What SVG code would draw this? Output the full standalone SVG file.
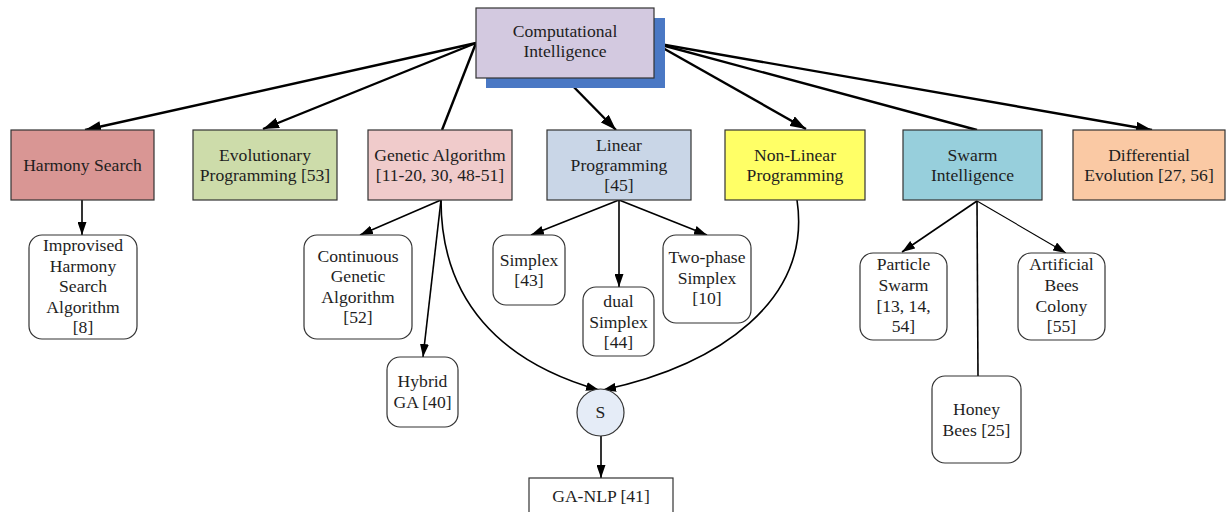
<svg xmlns="http://www.w3.org/2000/svg" width="1226" height="512" viewBox="0 0 1226 512">
  <style>
    text { font-family: "Liberation Serif", "Times New Roman", serif; font-size: 17.6px; fill: #1e1e1e; text-anchor: middle; }
    .box { stroke: #333; stroke-width: 1.2; }
    .leaf { fill: #fff; stroke: #333; stroke-width: 1.2; }
    .main { fill: none; stroke: #000; stroke-width: 2.4; }
    .sub { fill: none; stroke: #000; stroke-width: 1.6; }
    .thin { fill: none; stroke: #000; stroke-width: 1.1; }
  </style>
  <defs>
    <marker id="arrowBig" viewBox="0 0 16 11" refX="16" refY="5.5" markerWidth="16" markerHeight="11" markerUnits="userSpaceOnUse" orient="auto">
      <path d="M0,0 L16,5.5 L0,11 z" fill="#000"/>
    </marker>
    <marker id="arrowSmall" viewBox="0 0 13 9" refX="13" refY="4.5" markerWidth="13" markerHeight="9" markerUnits="userSpaceOnUse" orient="auto">
      <path d="M0,0 L13,4.5 L0,9 z" fill="#000"/>
    </marker>
  </defs>

  <!-- connectors -->
  <g id="connectors">
    <line class="main" x1="476" y1="43" x2="85" y2="130" marker-end="url(#arrowBig)"/>
    <line class="main" x1="476" y1="43" x2="263" y2="129" marker-end="url(#arrowBig)"/>
    <line class="main" x1="476" y1="43" x2="442" y2="130"/>
    <line class="main" x1="565" y1="78" x2="616" y2="130" marker-end="url(#arrowBig)"/>
    <line class="main" x1="654" y1="43" x2="806" y2="129" marker-end="url(#arrowBig)"/>
    <line class="main" x1="654" y1="43" x2="977" y2="130"/>
    <line class="main" x1="654" y1="43" x2="1152" y2="130" marker-end="url(#arrowBig)"/>

    <line class="sub" x1="82" y1="200" x2="82" y2="235" marker-end="url(#arrowSmall)"/>

    <line class="sub" x1="441" y1="200" x2="360" y2="235" marker-end="url(#arrowSmall)"/>
    <line class="sub" x1="441" y1="200" x2="423" y2="357" marker-end="url(#arrowSmall)"/>
    <path class="sub" d="M441,200 C441,300 500,362 599,390" marker-end="url(#arrowSmall)"/>
    <path class="sub" d="M797,200 C812,300 720,365 603,390" marker-end="url(#arrowSmall)"/>

    <line class="sub" x1="619" y1="200" x2="531" y2="235" marker-end="url(#arrowSmall)"/>
    <line class="sub" x1="619" y1="200" x2="619" y2="287" marker-end="url(#arrowSmall)"/>
    <line class="sub" x1="619" y1="200" x2="707" y2="235" marker-end="url(#arrowSmall)"/>

    <line class="sub" x1="601" y1="436" x2="601" y2="478" marker-end="url(#arrowSmall)"/>

    <line class="sub" x1="977" y1="201" x2="902" y2="252" marker-end="url(#arrowSmall)"/>
    <line class="thin" x1="977" y1="201" x2="1066" y2="253" marker-end="url(#arrowSmall)"/>
    <line class="sub" x1="977" y1="201" x2="978" y2="376"/>
  </g>

  <!-- root node with drop shadow -->
  <g id="computational-intelligence">
    <rect x="486" y="18" width="179" height="70" fill="#4a78c4"/>
    <rect class="box" x="476" y="8" width="178" height="70" fill="#d3c9e0"/>
    <text x="565" y="37">Computational</text>
    <text x="565" y="57">Intelligence</text>
  </g>

  <!-- second row -->
  <g id="harmony-search">
    <rect class="box" x="11" y="130" width="143" height="70" fill="#d99694"/>
    <text x="82.5" y="171">Harmony Search</text>
  </g>
  <g id="evolutionary-programming">
    <rect class="box" x="193" y="130" width="144" height="70" fill="#cddcaa"/>
    <text x="265" y="161">Evolutionary</text>
    <text x="265" y="181">Programming [53]</text>
  </g>
  <g id="genetic-algorithm">
    <rect class="box" x="368" y="130" width="144" height="70" fill="#f0cbcb"/>
    <text x="440" y="161">Genetic Algorithm</text>
    <text x="440" y="181">[11-20, 30, 48-51]</text>
  </g>
  <g id="linear-programming">
    <rect class="box" x="547" y="130" width="144" height="70" fill="#c9d6e7"/>
    <text x="619" y="151">Linear</text>
    <text x="619" y="171">Programming</text>
    <text x="619" y="191">[45]</text>
  </g>
  <g id="non-linear-programming">
    <rect class="box" x="725" y="130" width="140" height="70" fill="#ffff66"/>
    <text x="795" y="161">Non-Linear</text>
    <text x="795" y="181">Programming</text>
  </g>
  <g id="swarm-intelligence">
    <rect class="box" x="903" y="130" width="139" height="70" fill="#97cfdc"/>
    <text x="972.5" y="161">Swarm</text>
    <text x="972.5" y="181">Intelligence</text>
  </g>
  <g id="differential-evolution">
    <rect class="box" x="1073" y="130" width="152" height="70" fill="#fac9a4"/>
    <text x="1149" y="161">Differential</text>
    <text x="1149" y="181">Evolution [27, 56]</text>
  </g>

  <!-- leaves -->
  <g id="improvised-harmony-search">
    <rect class="leaf" x="29" y="235" width="108" height="104" rx="13"/>
    <text x="83" y="251">Improvised</text>
    <text x="83" y="271.5">Harmony</text>
    <text x="83" y="292">Search</text>
    <text x="83" y="312.5">Algorithm</text>
    <text x="83" y="333">[8]</text>
  </g>
  <g id="continuous-ga">
    <rect class="leaf" x="304" y="235" width="108" height="104" rx="13"/>
    <text x="358" y="262">Continuous</text>
    <text x="358" y="282">Genetic</text>
    <text x="358" y="302.5">Algorithm</text>
    <text x="358" y="323">[52]</text>
  </g>
  <g id="hybrid-ga">
    <rect class="leaf" x="387" y="357" width="71" height="70" rx="13"/>
    <text x="422.5" y="387">Hybrid</text>
    <text x="422.5" y="408">GA [40]</text>
  </g>
  <g id="simplex">
    <rect class="leaf" x="493" y="235" width="72" height="70" rx="13"/>
    <text x="529" y="265.5">Simplex</text>
    <text x="529" y="286">[43]</text>
  </g>
  <g id="dual-simplex">
    <rect class="leaf" x="583" y="287" width="71" height="69" rx="13"/>
    <text x="618.5" y="307">dual</text>
    <text x="618.5" y="327.5">Simplex</text>
    <text x="618.5" y="348">[44]</text>
  </g>
  <g id="two-phase-simplex">
    <rect class="leaf" x="663" y="235" width="88" height="88" rx="13"/>
    <text x="707" y="263">Two-phase</text>
    <text x="707" y="284">Simplex</text>
    <text x="707" y="304">[10]</text>
  </g>
  <g id="s">
    <circle cx="600.5" cy="412.5" r="23.5" fill="#e5ecf7" stroke="#333" stroke-width="1.2"/>
    <text x="600.5" y="418">S</text>
  </g>
  <g id="ga-nlp">
    <rect class="leaf" x="529" y="478" width="144" height="40"/>
    <text x="601" y="502">GA-NLP [41]</text>
  </g>
  <g id="particle-swarm">
    <rect class="leaf" x="860" y="253" width="87" height="87" rx="13"/>
    <text x="903.5" y="270">Particle</text>
    <text x="903.5" y="291">Swarm</text>
    <text x="903.5" y="311.5">[13, 14,</text>
    <text x="903.5" y="332">54]</text>
  </g>
  <g id="artificial-bees-colony">
    <rect class="leaf" x="1018" y="253" width="87" height="87" rx="13"/>
    <text x="1061.5" y="270">Artificial</text>
    <text x="1061.5" y="291">Bees</text>
    <text x="1061.5" y="311.5">Colony</text>
    <text x="1061.5" y="332">[55]</text>
  </g>
  <g id="honey-bees">
    <rect class="leaf" x="932" y="376" width="89" height="87" rx="13"/>
    <text x="976.5" y="415">Honey</text>
    <text x="976.5" y="436">Bees [25]</text>
  </g>
</svg>
